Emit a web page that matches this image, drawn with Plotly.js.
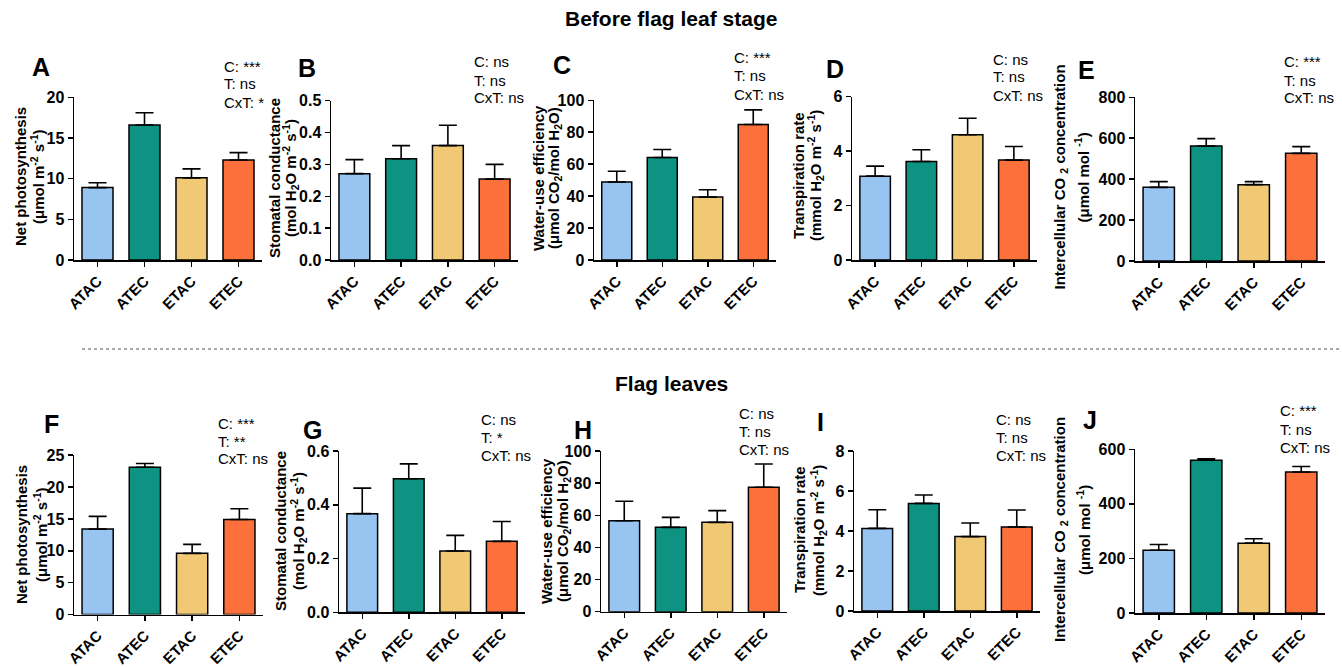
<!DOCTYPE html>
<html>
<head>
<meta charset="utf-8">
<script src="https://cdn.plot.ly/plotly-3.0.1.min.js"></script>
<style>
  html, body { margin: 0; padding: 0; background: #fff; }
  #chart { width: 1342px; height: 667px; }
</style>
</head>
<body>
<div id="chart"></div>
<script>
// ---------- DATA ----------
const groups = ['ATAC', 'ATEC', 'ETAC', 'ETEC'];

// Before flag leaf stage
const netPhotoBefore   = [8.9, 16.6, 10.1, 12.3];
const netPhotoBeforeSE = [0.6, 1.5, 1.1, 0.9];
const stomCondBefore   = [0.271, 0.318, 0.359, 0.254];
const stomCondBeforeSE = [0.044, 0.041, 0.064, 0.046];
const wueBefore        = [48.8, 64.2, 39.4, 84.8];
const wueBeforeSE      = [6.8, 5.0, 4.6, 9.2];
const transpBefore     = [3.08, 3.62, 4.6, 3.67];
const transpBeforeSE   = [0.37, 0.43, 0.61, 0.50];
const ciBefore         = [360, 562, 373, 526];
const ciBeforeSE       = [28, 36, 15, 33];

// Flag leaves
const netPhotoFlag   = [13.4, 23.1, 9.6, 14.9];
const netPhotoFlagSE = [2.0, 0.6, 1.4, 1.7];
const stomCondFlag   = [0.367, 0.497, 0.228, 0.264];
const stomCondFlagSE = [0.095, 0.055, 0.058, 0.074];
const wueFlag        = [56.6, 52.5, 55.6, 77.4];
const wueFlagSE      = [12.1, 6.2, 7.3, 14.5];
const transpFlag     = [4.13, 5.38, 3.72, 4.2];
const transpFlagSE   = [0.93, 0.42, 0.68, 0.85];
const ciFlag         = [230, 560, 256, 517];
const ciFlagSE       = [21, 5, 16, 20];

// Statistics text
const statsA = ['C: ***', 'T: ns', 'CxT: *'];
const statsB = ['C: ns', 'T: ns', 'CxT: ns'];
const statsC = ['C: ***', 'T: ns', 'CxT: ns'];
const statsD = ['C: ns', 'T: ns', 'CxT: ns'];
const statsE = ['C: ***', 'T: ns', 'CxT: ns'];
const statsF = ['C: ***', 'T: **', 'CxT: ns'];
const statsG = ['C: ns', 'T: *', 'CxT: ns'];
const statsH = ['C: ns', 'T: ns', 'CxT: ns'];
const statsI = ['C: ns', 'T: ns', 'CxT: ns'];
const statsJ = ['C: ***', 'T: ns', 'CxT: ns'];

// Axis titles
const titleNetPhoto = ['Net photosynthesis', '(μmol m<sup>-2</sup> s<sup>-1</sup>)'];
const titleStom     = ['Stomatal conductance', '(mol H<sub>2</sub>O m<sup>-2</sup> s<sup>-1</sup>)'];
const titleWUE      = ['Water-use efficiency', '(μmol CO<sub>2</sub>/mol H<sub>2</sub>O)'];
const titleTransp   = ['Transpiration rate', '(mmol H<sub>2</sub>O m<sup>-2</sup> s<sup>-1</sup>)'];
const titleCi       = ['Intercellular CO <sub>2</sub> concentration', '(μmol mol <sup>-1</sup>)'];

const sectionTitles = ['Before flag leaf stage', 'Flag leaves'];

// ---------- STYLE / LAYOUT ----------
const W = 1342, H = 667;
const barColors = ['#98C4F2', '#0E9282', '#F1C974', '#FB703B'];
const FONT = 'Liberation Sans, Arial, Helvetica, sans-serif';

// panel geometry in pixels: [x0, x1, yTop, yZero]; title line centres t1/t2
const panels = [
  {letter: 'A', y: netPhotoBefore, e: netPhotoBeforeSE, ymax: 20,  dtick: 5,   fmt: '',    px: [74, 262, 97.3, 260], stats: statsA, sx: 222, sy: 66, title: titleNetPhoto, t1: 20, t2: 37, ty: 177, lx: 41, ly: 67},
  {letter: 'B', y: stomCondBefore, e: stomCondBeforeSE, ymax: 0.5, dtick: 0.1, fmt: '.1f', px: [331, 518, 100.7, 260], stats: statsB, sx: 471.5, sy: 62, title: titleStom, t1: 274, t2: 290, ty: 178, lx: 307, ly: 68},
  {letter: 'C', y: wueBefore, e: wueBeforeSE, ymax: 100, dtick: 20, fmt: '', px: [594, 776, 100.3, 260], stats: statsC, sx: 732, sy: 58, title: titleWUE, t1: 538, t2: 554, ty: 178, lx: 562, ly: 65},
  {letter: 'D', y: transpBefore, e: transpBeforeSE, ymax: 6, dtick: 2, fmt: '', px: [852, 1037, 96.7, 260], stats: statsD, sx: 991, sy: 59, title: titleTransp, t1: 798, t2: 815, ty: 176, lx: 835, ly: 69},
  {letter: 'E', y: ciBefore, e: ciBeforeSE, ymax: 800, dtick: 200, fmt: '', px: [1135, 1325, 97.3, 261], stats: statsE, sx: 1281.5, sy: 62, title: titleCi, t1: 1060, t2: 1082, ty: 177.5, lx: 1086, ly: 70},
  {letter: 'F', y: netPhotoFlag, e: netPhotoFlagSE, ymax: 25, dtick: 5, fmt: '', px: [74, 263, 455.2, 614.5], stats: statsF, sx: 216, sy: 423, title: titleNetPhoto, t1: 21, t2: 40, ty: 535, lx: 51, ly: 424},
  {letter: 'G', y: stomCondFlag, e: stomCondFlagSE, ymax: 0.6, dtick: 0.2, fmt: '.1f', px: [339, 525, 451, 612.3], stats: statsG, sx: 479, sy: 419, title: titleStom, t1: 280, t2: 298, ty: 531, lx: 312, ly: 430},
  {letter: 'H', y: wueFlag, e: wueFlagSE, ymax: 100, dtick: 20, fmt: '', px: [601, 787, 451, 611.7], stats: statsH, sx: 737, sy: 413, title: titleWUE, t1: 546, t2: 563, ty: 531, lx: 583, ly: 430},
  {letter: 'I', y: transpFlag, e: transpFlagSE, ymax: 8, dtick: 2, fmt: '', px: [854, 1040, 451, 611], stats: statsI, sx: 994, sy: 419, title: titleTransp, t1: 799, t2: 818, ty: 530, lx: 820, ly: 422},
  {letter: 'J', y: ciFlag, e: ciFlagSE, ymax: 600, dtick: 200, fmt: '', px: [1135, 1325, 449.3, 613], stats: statsJ, sx: 1278, sy: 411, title: titleCi, t1: 1060, t2: 1083, ty: 530, lx: 1090, ly: 420}
];

const traces = [];
const layout = {
  width: W, height: H,
  margin: {l: 0, r: 0, t: 0, b: 0},
  paper_bgcolor: '#fff', plot_bgcolor: 'rgba(0,0,0,0)',
  showlegend: false,
  font: {family: FONT, color: '#000'},
  annotations: [],
  shapes: []
};

const fx = p => p / W;
const fy = p => 1 - p / H;

panels.forEach((p, i) => {
  const n = i + 1;
  const xa = 'x' + (n === 1 ? '' : n), ya = 'y' + (n === 1 ? '' : n);
  traces.push({
    type: 'bar', x: groups, y: p.y, xaxis: xa, yaxis: ya,
    width: 0.66,
    marker: {color: barColors, line: {color: '#000', width: 1.5}},
    error_y: {type: 'data', symmetric: false, array: p.e, arrayminus: p.e.map(() => 0),
              color: '#000', thickness: 1.6, width: 9},
    hoverinfo: 'none'
  });
  const axCommon = {
    showline: true, linecolor: '#000', linewidth: 1.5,
    ticks: 'outside', ticklen: 5, tickwidth: 1.5, tickcolor: '#000',
    showgrid: false, zeroline: false, fixedrange: true
  };
  layout['xaxis' + (n === 1 ? '' : n)] = Object.assign({}, axCommon, {
    domain: [fx(p.px[0]), fx(p.px[1])], anchor: ya,
    type: 'category', range: [-0.5, 3.5], tickangle: -45,
    tickfont: {family: FONT, size: 15, color: '#000', weight: 'bold'}
  });
  layout['yaxis' + (n === 1 ? '' : n)] = Object.assign({}, axCommon, {
    domain: [fy(p.px[3]), fy(p.px[2])], anchor: xa,
    range: [0, p.ymax], dtick: p.dtick, tick0: 0, tickformat: p.fmt,
    tickfont: {family: FONT, size: 16, color: '#000', weight: 'bold'}
  });
  // panel letter
  layout.annotations.push({
    xref: 'paper', yref: 'paper', x: fx(p.lx), y: fy(p.ly),
    xanchor: 'center', yanchor: 'middle', showarrow: false,
    text: '<b>' + p.letter + '</b>', font: {family: FONT, size: 25, color: '#000'}
  });
  // statistics
  p.stats.forEach((s, k) => {
    layout.annotations.push({
      xref: 'paper', yref: 'paper', x: fx(p.sx), y: fy(p.sy + 18 * k),
      xanchor: 'left', yanchor: 'middle', showarrow: false,
      text: s, font: {family: FONT, size: 15, color: '#000'}
    });
  });
  // y-axis title (two rotated lines)
  [p.t1, p.t2].forEach((tx, k) => {
    layout.annotations.push({
      xref: 'paper', yref: 'paper', x: fx(tx), y: fy(p.ty),
      xanchor: 'center', yanchor: 'middle', showarrow: false, textangle: -90,
      text: '<b>' + p.title[k] + '</b>',
      font: {family: FONT, size: 15, color: '#000'}
    });
  });
});

// section titles
layout.annotations.push({
  xref: 'paper', yref: 'paper', x: 0.5, y: fy(18), xanchor: 'center', yanchor: 'middle',
  showarrow: false, text: '<b>' + sectionTitles[0] + '</b>', font: {family: FONT, size: 21, color: '#000'}
});
layout.annotations.push({
  xref: 'paper', yref: 'paper', x: 0.5, y: fy(383), xanchor: 'center', yanchor: 'middle',
  showarrow: false, text: '<b>' + sectionTitles[1] + '</b>', font: {family: FONT, size: 21, color: '#000'}
});
// separator dashed line
layout.shapes.push({
  type: 'line', xref: 'paper', yref: 'paper', x0: fx(82), x1: 1, y0: fy(349), y1: fy(349),
  line: {color: '#555', width: 1, dash: 'dot'}
});

Plotly.newPlot('chart', traces, layout, {staticPlot: true, displayModeBar: false});
</script>
</body>
</html>
